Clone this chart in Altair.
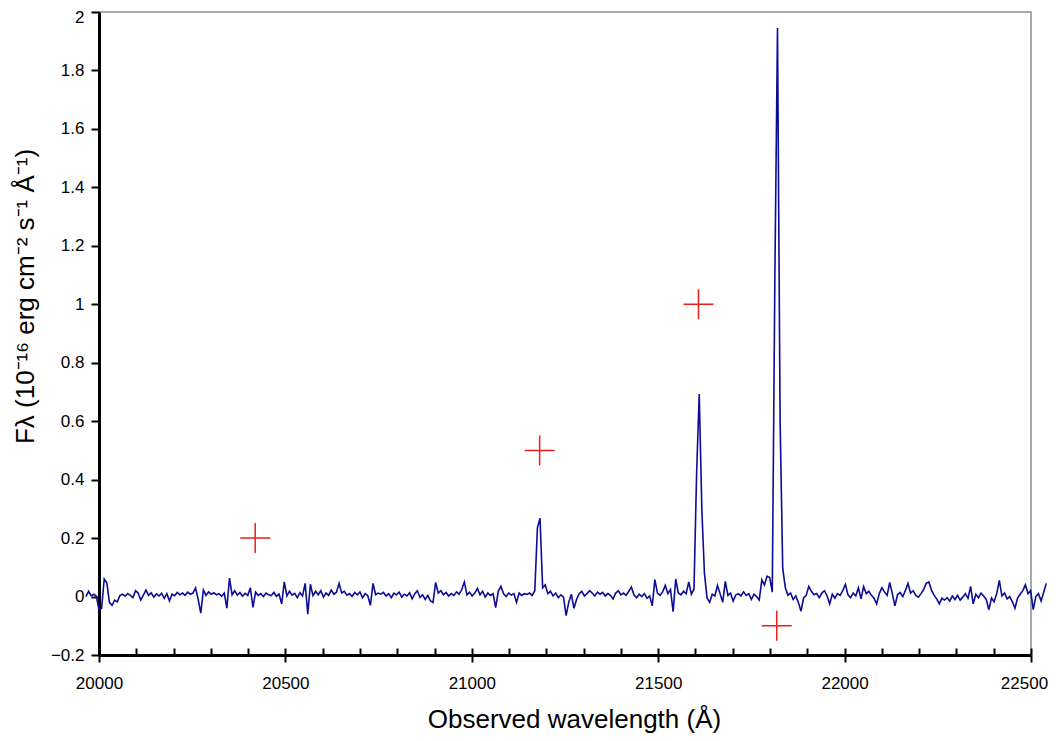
import altair as alt
import pandas as pd

# Spectrum sampling: first wavelength and step (Angstrom)
LAMBDA_START = 19965
LAMBDA_STEP = 7

flux = [
    0.000, 0.018, 0.002, 0.008, 0.001, -0.046, -0.040, 0.060, 0.047, -0.020,
    -0.030, -0.012, -0.018, 0.003, 0.008, 0.001, 0.010, 0.004, -0.004, 0.020,
    0.012, -0.012, 0.005, 0.022, 0.004, 0.013, -0.002, 0.009, 0.002, 0.011,
    -0.006, 0.010, -0.015, 0.008, 0.003, 0.014, 0.006, 0.012, 0.004, 0.015,
    0.008, 0.012, 0.030, -0.010, -0.057, 0.022, 0.004, 0.016, 0.008, 0.013,
    0.006, 0.010, 0.001, 0.012, -0.040, 0.063, 0.006, 0.020, 0.005, 0.014,
    0.001, 0.011, 0.004, 0.030, -0.037, 0.015, 0.004, 0.010, 0.000, 0.012,
    0.006, 0.003, 0.014, 0.001, 0.008, -0.025, 0.050, 0.002, 0.018, 0.005,
    0.011, -0.004, 0.013, 0.002, 0.045, -0.060, 0.042, 0.003, 0.018, 0.006,
    0.020, -0.002, 0.012, 0.004, 0.022, 0.008, 0.015, 0.045, 0.012, 0.018,
    0.005, 0.010, 0.000, 0.014, 0.006, 0.016, -0.004, 0.010, 0.003, -0.030,
    0.045, 0.006, 0.012, 0.008, 0.014, 0.002, 0.010, -0.004, 0.012, 0.006,
    0.015, -0.002, 0.008, 0.002, 0.013, -0.008, 0.010, 0.020, -0.003, 0.006,
    -0.010, 0.004, -0.015, -0.020, 0.048, 0.012, 0.020, 0.006, 0.014, 0.002,
    0.010, 0.004, 0.016, 0.008, 0.024, 0.050, 0.006, 0.015, 0.002, 0.012,
    0.028, 0.006, 0.018, -0.002, 0.012, 0.004, 0.010, -0.038, 0.018, 0.035,
    0.010, 0.000, 0.012, 0.005, 0.010, -0.020, 0.012, 0.004, 0.010, 0.007,
    0.012, 0.004, 0.020, 0.235, 0.268, 0.030, 0.040, 0.010, 0.018, 0.002,
    0.012, -0.004, 0.006, -0.002, -0.065, -0.020, 0.008, -0.040, -0.010, 0.010,
    0.018, 0.002, 0.010, 0.020, 0.012, 0.002, 0.015, 0.008, 0.014, 0.002,
    0.010, 0.004, -0.008, 0.012, 0.020, 0.006, 0.012, 0.004, 0.018, 0.032,
    0.006, -0.004, 0.008, 0.000, 0.010, -0.006, 0.002, -0.032, 0.058, 0.012,
    0.004, 0.016, 0.038, 0.010, 0.024, -0.052, 0.060, 0.012, 0.006, 0.018,
    0.010, 0.050, 0.008, 0.025, 0.420, 0.693, 0.300, 0.080, -0.005, -0.020,
    0.008, 0.002, 0.038, 0.010, -0.020, 0.052, 0.004, 0.012, -0.015, 0.005,
    0.010, 0.002, 0.016, 0.004, 0.010, -0.010, 0.008, 0.000, -0.012, 0.057,
    0.040, 0.070, 0.065, 0.015, 1.100, 1.945, 0.600, 0.097, 0.030, 0.005,
    0.012, -0.010, 0.002, -0.020, -0.050, -0.005, 0.004, 0.035, 0.018, 0.006,
    0.010, -0.004, 0.012, 0.020, 0.002, -0.025, 0.008, -0.006, 0.010, 0.004,
    0.020, 0.042, 0.006, -0.004, 0.012, 0.002, 0.030, -0.008, 0.034, 0.010,
    0.018, 0.004, -0.006, -0.025, 0.010, 0.030, 0.016, 0.004, 0.048, 0.010,
    -0.032, 0.006, 0.014, 0.000, 0.020, 0.045, 0.012, 0.020, 0.004, -0.002,
    0.010, 0.024, 0.045, 0.050, 0.022, 0.005, -0.008, -0.025, -0.006, -0.012,
    -0.004, -0.015, 0.002, -0.010, 0.004, -0.012, -0.002, 0.010, -0.006, 0.035,
    -0.025, 0.008, -0.004, 0.012, 0.002, -0.010, -0.045, -0.005, -0.018, 0.010,
    0.055, 0.002, 0.012, -0.008, 0.000, -0.018, -0.040, -0.005, 0.008, 0.020,
    0.040, 0.010, 0.020, -0.045, 0.000, 0.010, -0.015, 0.015, 0.045,
]

# Red cross markers
cross_wavelength = [20419, 21182, 21608, 21818]
cross_flux = [0.2, 0.5, 1.0, -0.1]

# Axis ticks
x_major_ticks = [20000, 20500, 21000, 21500, 22000, 22500]
x_minor_ticks = list(range(20000, 22501, 100))
y_ticks = [-0.2, 0, 0.2, 0.4, 0.6, 0.8, 1.0, 1.2, 1.4, 1.6, 1.8, 2.0]

spec_df = pd.DataFrame({
    "wavelength": [LAMBDA_START + LAMBDA_STEP * i for i in range(len(flux))],
    "flux": flux,
})
cross_df = pd.DataFrame({"wavelength": cross_wavelength, "flux": cross_flux})

FONT = "Liberation Sans"
x_scale = alt.Scale(domain=[20000, 22500], nice=False, zero=False)
y_scale = alt.Scale(domain=[-0.2, 2.0], nice=False, zero=False)

y_axis = alt.Axis(
    values=y_ticks, format=".1~f", grid=False, labelFlush=False,
    domainColor="black", domainWidth=3,
    tickColor="black", tickWidth=2, tickSize=8,
    labelFont=FONT, labelFontSize=17, labelColor="black", labelPadding=7,
    labelOffset={"condition": {"test": "datum.value >= 1.99", "value": 5}, "value": 0},
    title="Fλ (10⁻¹⁶ erg cm⁻² s⁻¹ Å⁻¹)",
    titleFont=FONT, titleFontSize=26, titleFontWeight="normal", titleColor="black",
    titleX=-74, titleY=284, titleAngle=270, titleAlign="center", titleBaseline="middle",
)

x_axis_main = alt.Axis(
    values=x_major_ticks, format="d", grid=False, orient="bottom", labelFlush=False,
    domainColor="black", domainWidth=3,
    tickColor="black", tickWidth=2, tickSize=7,
    labelFont=FONT, labelFontSize=17, labelColor="black", labelPadding=13,
    labelOffset={"condition": {"test": "datum.value >= 22499", "value": -7}, "value": 0},
    title="Observed wavelength (Å)",
    titleFont=FONT, titleFontSize=26, titleFontWeight="normal", titleColor="black",
    titleX=475, titleY=64, titleAlign="center", titleBaseline="middle",
)

x_axis_minor = alt.Axis(
    values=x_minor_ticks, grid=False, orient="bottom", offset=-7,
    domain=False, labels=False, title=None,
    tickColor="black", tickWidth=2, tickSize=7,
)

line = alt.Chart(spec_df).mark_line(color="#0c0c96", strokeWidth=1.6).encode(
    x=alt.X("wavelength:Q", scale=x_scale, axis=x_axis_main),
    y=alt.Y("flux:Q", scale=y_scale, axis=y_axis),
)

crosses = alt.Chart(cross_df).mark_point(
    shape="M-1,0L1,0M0,-1L0,1", size=900, filled=False,
    stroke="#ee1c1c", strokeWidth=1.5, opacity=1,
).encode(
    x=alt.X("wavelength:Q", scale=x_scale, axis=x_axis_minor),
    y=alt.Y("flux:Q", scale=y_scale, axis=y_axis),
)

chart = alt.layer(line, crosses).resolve_axis(x="independent").properties(
    width=932, height=643,
    autosize=alt.AutoSizeParams(type="none"),
    padding={"left": 91, "top": 4, "right": 17, "bottom": 80},
).configure_view(stroke="#8f8f8f", strokeWidth=1.5)

chart.save("out.html", embed_options={"renderer": "svg", "actions": False})
